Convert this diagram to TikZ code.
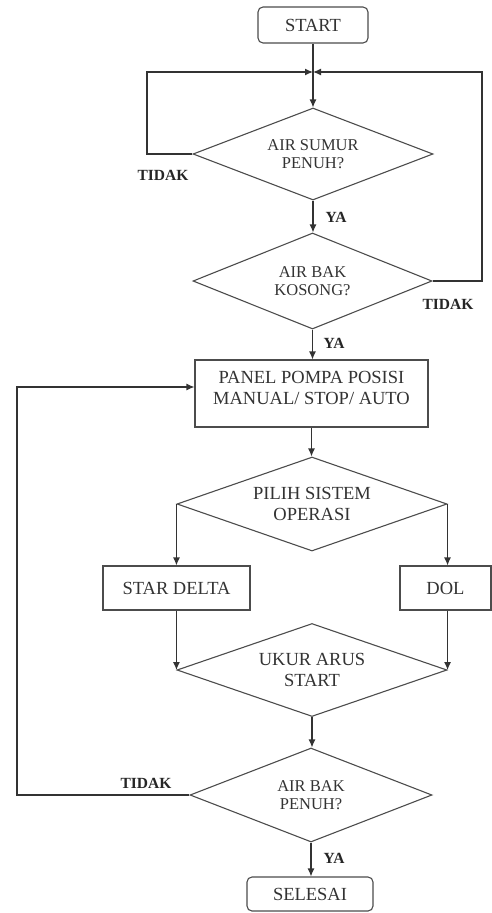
\documentclass[tikz,border=0pt]{standalone}
\usepackage{fontspec}
\setmainfont{Liberation Serif}
\usetikzlibrary{shapes.geometric,arrows.meta}
\begin{document}
\begin{tikzpicture}[x=1pt,y=-1pt,
  shp/.style={draw=black!70, line width=1.1pt, inner sep=0pt, text=black!80},
  boxn/.style={shp, rectangle, font=\fontsize{18.5}{21}\selectfont, align=center},
  rbox/.style={boxn, rounded corners=5pt},
  dia/.style={shp, diamond, aspect=2.6, align=center},
  dsmall/.style={dia, font=\fontsize{16.5}{18}\selectfont},
  dbig/.style={dia, font=\fontsize{18.5}{21}\selectfont},
  con/.style={draw=black!80, line width=1.2pt},
  arr/.style={con, -{Latex[length=8pt,width=7pt]}},
  lbl/.style={text=black!85, font=\fontsize{15.5}{17}\selectfont\bfseries, inner sep=0pt}
]
\useasboundingbox (0,0) rectangle (492,913);

\node[rbox, minimum width=110, minimum height=36] (start) at (313,25) {START};
\node[dsmall, minimum width=240, minimum height=92] (d1) at (313,154) {AIR SUMUR\\PENUH?};
\node[dsmall, minimum width=239, minimum height=96] (d2) at (312.5,281) {AIR BAK\\KOSONG?};
\node[boxn, minimum width=233, minimum height=67] (panel) at (311.5,393.5) {};
\node[font=\fontsize{18.5}{21}\selectfont, align=center, text=black!80, inner sep=0pt] (panelt) at (311.5,388) {PANEL POMPA POSISI\\MANUAL/ STOP/ AUTO};
\node[dbig, minimum width=270, minimum height=94] (d3) at (312,504) {PILIH SISTEM\\OPERASI};
\node[boxn, minimum width=147, minimum height=44] (sd) at (176.5,588) {STAR DELTA};
\node[boxn, minimum width=91, minimum height=44] (dol) at (445.5,588) {DOL};
\node[dbig, minimum width=270, minimum height=93] (d4) at (312,670) {UKUR ARUS\\START};
\node[dsmall, minimum width=242, minimum height=94] (d5) at (311,795) {AIR BAK\\PENUH?};
\node[rbox, minimum width=126, minimum height=34] (sel) at (310,894) {SELESAI};

\coordinate (j) at (313,72);
\coordinate (l1) at (147,154);
\coordinate (r2) at (482,281);
\coordinate (l5) at (17,795);

% top
\draw[arr] (start.south) -- (d1.north);
\draw[arr] (d1.west) -- (l1) |- (j);
\draw[arr] (d2.east) -- (r2) |- (j);
\draw[arr] (d1.south) -- (d1.south |- d2.north);
\draw[arr] (d2.south) -- (d2.south |- panel.north);
\draw[arr] (panel.south) -- (panel.south |- d3.north);
\draw[arr] (d3.west) -- (d3.west |- sd.north);
\draw[arr] (d3.east) -- (d3.east |- dol.north);
\draw[arr] (d3.west |- sd.south) -- (d4.west);
\draw[arr] (d3.east |- dol.south) -- (d4.east);
\draw[arr] (d4.south) -- (d4.south |- d5.north);
\draw[arr] (d5.west) -- (l5) |- ([yshift=6.5pt]panel.west);
\draw[arr] (d5.south) -- (d5.south |- sel.north);

% labels
\node[lbl] (t1) at (163,175) {TIDAK};
\node[lbl] (t2) at (448,304) {TIDAK};
\node[lbl] (t5) at (146,783) {TIDAK};
\node[lbl] (y1) at (336,217) {YA};
\node[lbl] (y2) at (334,343) {YA};
\node[lbl] (y5) at (334,858) {YA};
\end{tikzpicture}
\end{document}
